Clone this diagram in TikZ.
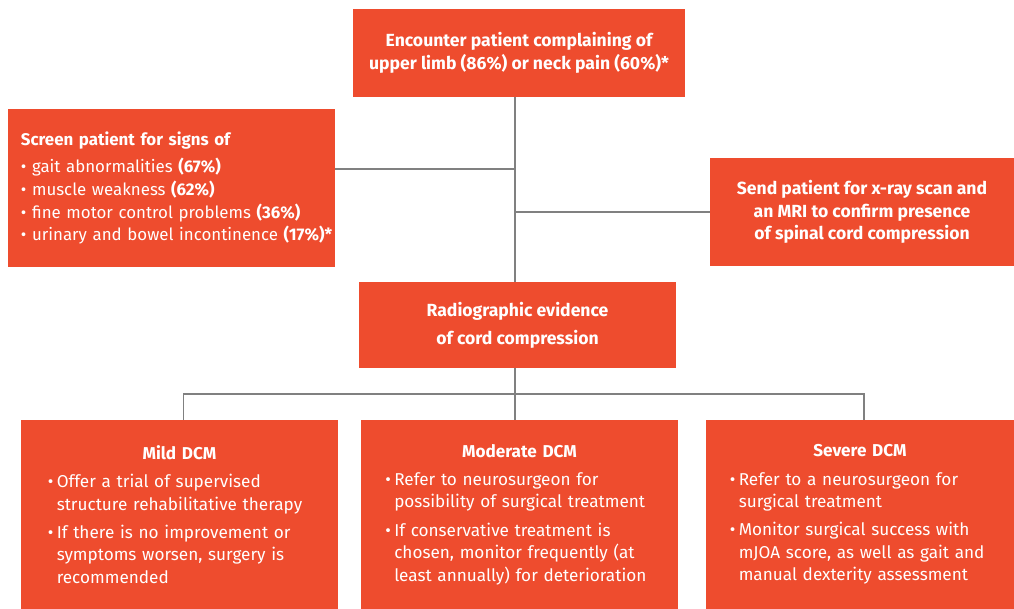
\documentclass[tikz,border=0pt]{standalone}
\usepackage{fontspec}
\setmainfont{Fira Sans}
\definecolor{box}{RGB}{238,76,46}
\definecolor{wire}{RGB}{128,128,128}
\newcommand{\dcmitem}[1]{\par\vspace{0.14cm}\hangindent=0.22cm\hangafter=1\noindent\makebox[0.22cm][l]{•}#1\par}
\tikzset{
  card/.style={fill=box,text=white,inner sep=0pt,font=\fontsize{12.2}{16}\selectfont},
  headcard/.style={card,align=center,font=\fontsize{12.5}{16}\selectfont\bfseries},
  link/.style={draw=wire,line width=1.3pt}
}

\begin{document}
\begin{tikzpicture}[x=0.025cm,y=-0.025cm]
\useasboundingbox (0,0) rectangle (1014,609);
\node[headcard,minimum width=8.3cm,minimum height=2.2cm] (top) at (519,53) {Encounter patient complaining of\\upper limb (86\%) or neck pain (60\%)*};
\node[card,minimum width=8.175cm,minimum height=3.95cm,text width=7.525cm,align=left,font=\fontsize{12}{16.3}\selectfont] (screen) at (171.5,188) {\mbox{\textbf{Screen patient for signs of}}\\[3pt]
  \mbox{• gait abnormalities \textbf{(67\%)}}\\
  \mbox{• muscle weakness \textbf{(62\%)}}\\
  \mbox{• fine motor control problems \textbf{(36\%)}}\\
  \mbox{• urinary and bowel incontinence \textbf{(17\%)*}}\\[-3pt]};
\node[headcard,minimum width=7.6cm,minimum height=2.7cm] (send) at (862,212) {Send patient for x-ray scan and\\an MRI to confirm presence\\of spinal cord compression};
\node[headcard,minimum width=7.925cm,minimum height=2.15cm] (radio) at (517.5,325) {Radiographic evidence\\[4pt]of cord compression};
\node[card,minimum width=7.925cm,minimum height=4.725cm,text width=6.575cm,align=left] (mild) at (179.5,514.5) {\centerline{\textbf{Mild DCM}}
  \dcmitem{Offer a trial of supervised\newline structure rehabilitative therapy}
  \dcmitem{If there is no improvement or\newline symptoms worsen, surgery is\newline recommended}};
\node[card,minimum width=7.925cm,minimum height=4.725cm,text width=6.7cm,align=left] (moderate) at (519.5,514.5) {\centerline{\textbf{Moderate DCM}}
  \dcmitem{Refer to neurosurgeon for\newline possibility of surgical treatment}
  \dcmitem{If conservative treatment is\newline chosen, monitor frequently (at\newline least annually) for deterioration}};
\node[card,minimum width=7.7cm,minimum height=4.725cm,text width=6.5cm,align=left] (severe) at (860,514.5) {\centerline{\textbf{Severe DCM}}
  \dcmitem{Refer to a neurosurgeon for\newline surgical treatment}
  \dcmitem{Monitor surgical success with\newline mJOA score, as well as gait and\newline manual dexterity assessment}};
\coordinate (lj) at (515,169);
\coordinate (rj) at (515,212);
\coordinate (bj) at (515,394);
\draw[link] (top.south -| bj) -- (radio.north -| bj);
\draw[link] (screen.east |- lj) -- (lj);
\draw[link] (rj) -- (send.west);
\draw[link] (radio.south -| bj) -- (bj);
\draw[link] ([xshift=0.1cm]mild.north) |- (bj) -| ([xshift=0.1cm]severe.north);
\draw[link] (bj) -- (moderate.north -| bj);
\end{tikzpicture}
\end{document}
